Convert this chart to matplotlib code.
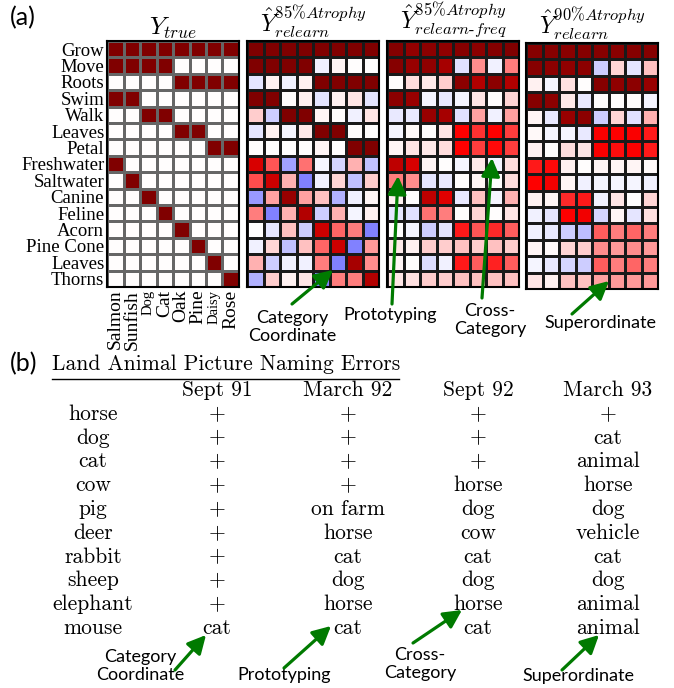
import numpy as np
import matplotlib
matplotlib.use("Agg")
import matplotlib.pyplot as plt

plt.rcParams['mathtext.fontset'] = 'cm'

features = ["Grow", "Move", "Roots", "Swim", "Walk", "Leaves", "Petal", "Freshwater",
            "Saltwater", "Canine", "Feline", "Acorn", "Pine Cone", "Leaves", "Thorns"]
items = ["Salmon", "Sunfish", "Dog", "Cat", "Oak", "Pine", "Daisy", "Rose"]

y_true = [
    [1, 1, 1, 1, 1, 1, 1, 1],
    [1, 1, 1, 1, 0, 0, 0, 0],
    [0, 0, 0, 0, 1, 1, 1, 1],
    [1, 1, 0, 0, 0, 0, 0, 0],
    [0, 0, 1, 1, 0, 0, 0, 0],
    [0, 0, 0, 0, 1, 1, 0, 0],
    [0, 0, 0, 0, 0, 0, 1, 1],
    [1, 0, 0, 0, 0, 0, 0, 0],
    [0, 1, 0, 0, 0, 0, 0, 0],
    [0, 0, 1, 0, 0, 0, 0, 0],
    [0, 0, 0, 1, 0, 0, 0, 0],
    [0, 0, 0, 0, 1, 0, 0, 0],
    [0, 0, 0, 0, 0, 1, 0, 0],
    [0, 0, 0, 0, 0, 0, 1, 0],
    [0, 0, 0, 0, 0, 0, 0, 1],
]

relearn_85 = [
    [1.0, 1.0, 1.0, 1.0, 1.0, 1.0, 1.0, 1.0],
    [1.0, 1.0, 1.0, 1.0, -0.03, 0.02, 0.0, 0.0],
    [-0.05, 0.03, -0.03, 0.03, 1.0, 1.0, 1.0, 1.0],
    [1.0, 1.0, 0.0, 0.03, -0.05, 0.03, 0.05, -0.05],
    [0.1, -0.1, 1.0, 1.0, 0.02, 0.0, -0.03, 0.05],
    [-0.05, 0.03, -0.02, 0.04, 1.0, 1.0, 0.0, 0.0],
    [0.0, 0.0, 0.0, 0.0, 0.02, 0.0, 1.0, 1.0],
    [0.65, 0.33, -0.18, 0.28, -0.02, -0.08, 0.15, -0.12],
    [0.35, 0.7, 0.15, -0.25, -0.03, 0.08, -0.12, 0.1],
    [-0.2, 0.18, 0.9, 0.18, 0.12, -0.15, -0.03, 0.02],
    [0.25, -0.25, 0.15, 0.8, -0.1, 0.15, -0.02, 0.03],
    [0.0, -0.05, 0.12, -0.1, 0.7, 0.3, 0.25, -0.25],
    [-0.03, 0.08, -0.12, 0.12, 0.3, 0.7, -0.25, 0.2],
    [0.15, -0.1, -0.03, -0.03, 0.25, -0.25, 0.85, 0.22],
    [-0.15, 0.1, 0.03, 0.05, -0.25, 0.25, 0.25, 0.8],
]

relearn_freq_85 = [
    [0.98, 0.92, 0.95, 0.93, 0.97, 0.95, 0.98, 1.0],
    [0.97, 0.9, 0.93, 0.85, -0.06, 0.22, -0.03, 0.25],
    [0.0, 0.07, 0.04, 0.1, 0.95, 0.8, 0.95, 0.8],
    [0.95, 0.9, -0.02, -0.04, -0.02, 0.05, 0.0, 0.08],
    [-0.04, -0.04, 0.9, 0.85, -0.06, 0.18, -0.03, 0.18],
    [-0.02, 0.01, 0.0, 0.05, 0.5, 0.4, 0.5, 0.38],
    [0.02, 0.05, 0.04, 0.07, 0.5, 0.38, 0.48, 0.38],
    [0.75, 0.65, 0.02, 0.0, -0.02, 0.04, -0.02, 0.07],
    [0.25, 0.22, -0.05, -0.04, 0.0, 0.02, 0.0, 0.07],
    [0.03, 0.0, 0.75, 0.62, -0.04, 0.12, -0.02, 0.15],
    [-0.05, -0.06, 0.28, 0.25, 0.0, 0.08, 0.0, 0.05],
    [0.0, -0.02, -0.1, -0.05, 0.45, 0.33, 0.42, 0.32],
    [0.04, 0.03, 0.1, 0.1, 0.12, 0.1, 0.12, 0.1],
    [0.02, 0.0, -0.07, -0.03, 0.45, 0.32, 0.43, 0.32],
    [0.05, 0.06, 0.1, 0.1, 0.12, 0.12, 0.12, 0.12],
]

relearn_90 = [
    [0.97, 0.97, 0.96, 0.97, 0.97, 0.96, 0.97, 0.97],
    [0.97, 0.95, 0.93, 0.95, -0.1, 0.08, -0.05, 0.12],
    [0.03, -0.02, 0.06, 0.0, 0.97, 0.93, 0.95, 0.9],
    [0.97, 0.95, 0.04, -0.04, 0.0, 0.0, 0.0, -0.02],
    [0.02, -0.04, 0.9, 0.95, -0.1, 0.08, -0.06, 0.15],
    [0.01, -0.02, -0.02, -0.04, 0.52, 0.5, 0.52, 0.45],
    [0.03, 0.0, 0.07, 0.05, 0.52, 0.47, 0.52, 0.45],
    [0.45, 0.48, 0.03, 0.0, 0.02, 0.02, 0.02, 0.01],
    [0.5, 0.55, 0.02, -0.03, -0.02, -0.02, -0.02, -0.03],
    [0.03, 0.02, 0.42, 0.45, -0.03, 0.05, 0.0, 0.08],
    [-0.03, -0.05, 0.5, 0.55, -0.08, 0.02, -0.05, 0.06],
    [-0.03, -0.04, -0.1, -0.13, 0.32, 0.25, 0.3, 0.25],
    [0.02, 0.01, 0.08, 0.1, 0.22, 0.2, 0.22, 0.2],
    [-0.02, -0.04, -0.08, -0.1, 0.32, 0.25, 0.3, 0.25],
    [0.05, 0.03, 0.12, 0.12, 0.18, 0.2, 0.2, 0.2],
]

panel_titles = [r"$Y_{true}$",
                r"$\hat{Y}^{85\%Atrophy}_{relearn}$",
                r"$\hat{Y}^{85\%Atrophy}_{relearn\text{-}freq}$",
                r"$\hat{Y}^{90\%Atrophy}_{relearn}$"]

table_title = "Land Animal Picture Naming Errors"
dates = ["Sept 91", "March 92", "Sept 92", "March 93"]
animals = ["horse", "dog", "cat", "cow", "pig", "deer", "rabbit", "sheep", "elephant", "mouse"]
sept91 = ["+", "+", "+", "+", "+", "+", "+", "+", "+", "cat"]
march92 = ["+", "+", "+", "+", "on farm", "horse", "cat", "dog", "horse", "cat"]
sept92 = ["+", "+", "+", "horse", "dog", "cow", "cat", "dog", "horse", "cat"]
march93 = ["+", "cat", "animal", "horse", "dog", "vehicle", "cat", "dog", "animal", "animal"]

W, H = 674, 688
fig = plt.figure(figsize=(W / 100, H / 100), dpi=100)

def fb(x0, y0, x1, y1):
    return [x0 / W, 1 - y1 / H, (x1 - x0) / W, (y1 - y0) / H]

panel_boxes = [(107, 41, 239, 287), (247, 41, 379, 287), (387, 41, 519, 287), (526, 43, 658, 289)]
mats = [y_true, relearn_85, relearn_freq_85, relearn_90]
serif = "Liberation Serif"

for k, (box, m, title) in enumerate(zip(panel_boxes, mats, panel_titles)):
    ax = fig.add_axes(fb(*box))
    arr = np.array(m, dtype=float)
    ax.pcolormesh(arr, cmap="seismic", vmin=-1, vmax=1,
                  edgecolors="0.4" if k == 0 else "0.1", linewidth=0.9)
    ax.set_xlim(0, arr.shape[1])
    ax.set_ylim(arr.shape[0], 0)
    for s in ax.spines.values():
        s.set_linewidth(1.5)
        s.set_color("black")
    ax.tick_params(length=0, pad=2)
    if k == 0:
        ax.set_yticks(np.arange(len(features)) + 0.5)
        ax.set_yticklabels(features, family=serif, fontsize=13.5)
        ax.set_xticks(np.arange(len(items)) + 0.5)
        ax.set_xticklabels(items, family=serif, rotation=90, fontsize=14)
        for lbl in ax.get_xticklabels():
            if lbl.get_text() in ("Dog", "Daisy"):
                lbl.set_fontsize(10.5)
    else:
        ax.set_xticks([])
        ax.set_yticks([])
    ax.set_title(title, fontsize=18 if k == 0 else 17, pad=1)

ov = fig.add_axes([0, 0, 1, 1], zorder=10)
ov.set_xlim(0, W)
ov.set_ylim(H, 0)
ov.axis("off")
ov.patch.set_alpha(0)

sans = "Lato"
ov.text(10, 18, "(a)", family=sans, fontsize=18, va="center", ha="left")
ov.text(10, 364, "(b)", family=sans, fontsize=18, va="center", ha="left")

green = "#007a00"
def arrow(x0, y0, x1, y1):
    ov.annotate("", xy=(x1, y1), xytext=(x0, y0),
                arrowprops=dict(arrowstyle="-|>,head_length=0.55,head_width=0.28",
                                color=green, lw=2.3, mutation_scale=20,
                                shrinkA=0, shrinkB=0))

# top annotations
ov.text(292, 327, "Category\nCoordinate", family=sans, fontsize=13, ha="center", va="center", linespacing=1.2)
arrow(292, 304, 333, 270)
ov.text(390, 315, "Prototyping", family=sans, fontsize=13, ha="center", va="center")
arrow(392, 304, 398, 176)
ov.text(490, 320, "Cross-\nCategory", family=sans, fontsize=13, ha="center", va="center", linespacing=1.2)
arrow(482, 298, 492, 158)
ov.text(600, 323, "Superordinate", family=sans, fontsize=13, ha="center", va="center")
arrow(572, 314, 609, 281)

# table
cm = "cmr10"
tfs = 15.5
ov.text(52, 364, table_title, family=cm, fontsize=tfs, ha="left", va="center")
ov.plot([52, 399], [379, 379], color="black", lw=1)
col_x = [217, 348, 478, 608]
ov_rows_y0, ov_dy = 414, 23.8
for cx, d in zip(col_x, dates):
    ov.text(cx, 390, d, family=cm, fontsize=tfs, ha="center", va="center")
for i, a in enumerate(animals):
    y = ov_rows_y0 + i * ov_dy
    ov.text(93, y, a, family=cm, fontsize=tfs, ha="center", va="center")
    for cx, col in zip(col_x, [sept91, march92, sept92, march93]):
        ov.text(cx, y, col[i], family=cm, fontsize=tfs, ha="center", va="center")

# bottom annotations
ov.text(140, 666, "Category\nCoordinate", family=sans, fontsize=13, ha="center", va="center", linespacing=1.2)
arrow(175, 670, 206, 635)
ov.text(284, 675, "Prototyping", family=sans, fontsize=13, ha="center", va="center")
arrow(284, 668, 331, 626)
ov.text(420, 664, "Cross-\nCategory", family=sans, fontsize=13, ha="center", va="center", linespacing=1.2)
arrow(413, 643, 462, 610)
ov.text(578, 676, "Superordinate", family=sans, fontsize=13, ha="center", va="center")
arrow(562, 670, 599, 635)

fig.savefig("out.png", dpi=100)
